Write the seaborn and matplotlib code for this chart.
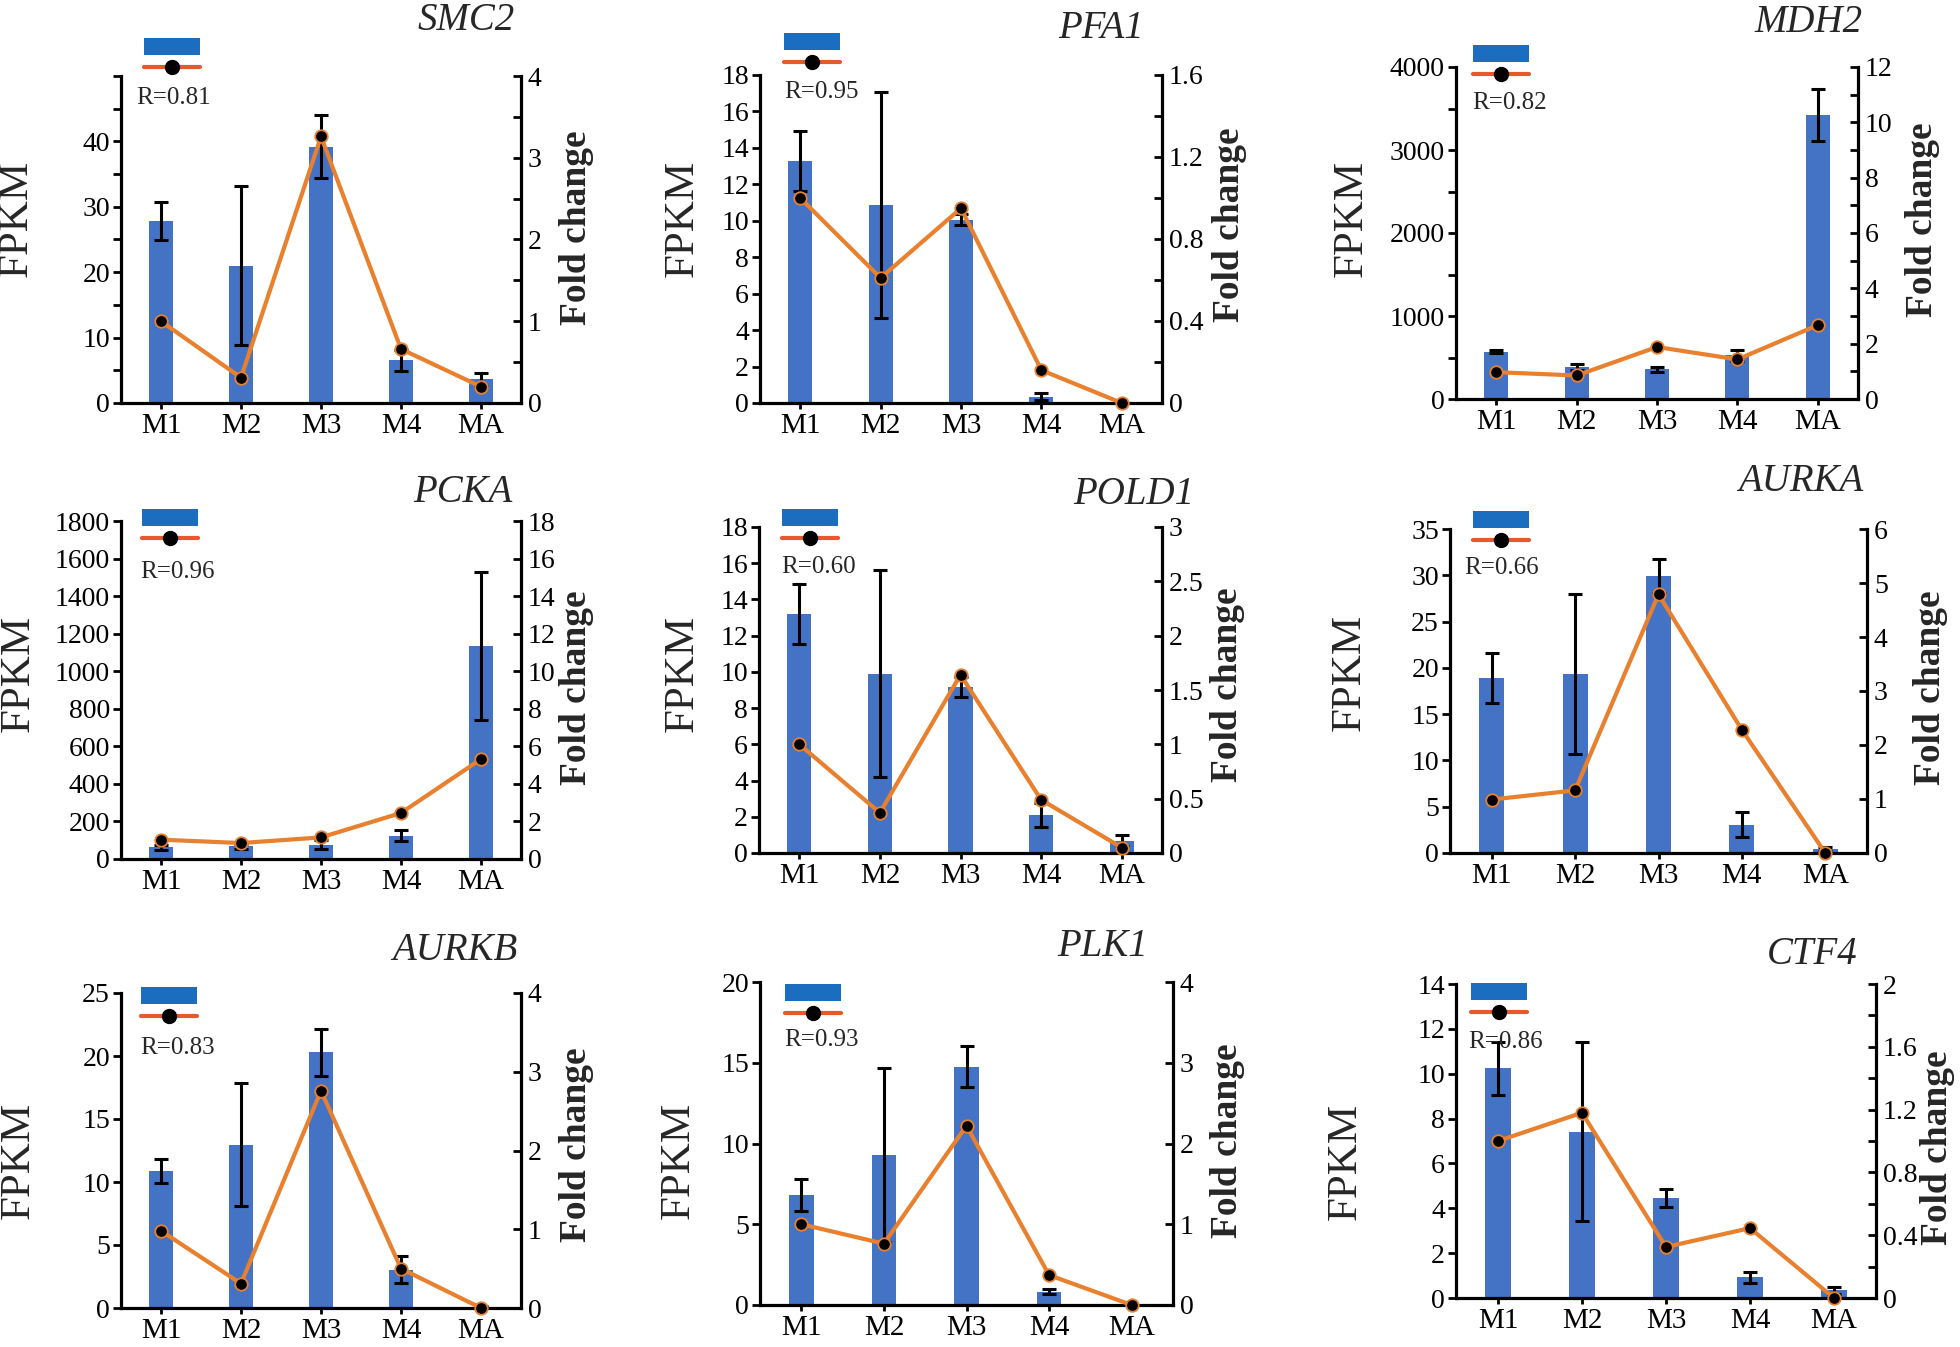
import numpy as np
import matplotlib
matplotlib.use("Agg")
import matplotlib.pyplot as plt
import seaborn as sns
from matplotlib.patches import Patch
from matplotlib.lines import Line2D
from matplotlib.ticker import FixedLocator, MultipleLocator

sns.set_style("ticks")
plt.rcParams["font.family"] = ["Liberation Serif", "DejaVu Serif"]

# ---- data ----
stages = ["M1", "M2", "M3", "M4", "MA"]
genes = ["SMC2", "PFA1", "MDH2", "PCKA", "POLD1", "AURKA", "AURKB", "PLK1", "CTF4"]
r_values = ["0.81", "0.95", "0.82", "0.96", "0.60", "0.66", "0.83", "0.93", "0.86"]

smc2_fpkm = [27.8, 21.0, 39.2, 6.5, 3.6]
smc2_err = [2.9, 12.2, 4.8, 1.6, 1.0]
smc2_fc = [1.0, 0.31, 3.26, 0.66, 0.20]

pfa1_fpkm = [13.3, 10.85, 10.05, 0.35, 0.0]
pfa1_err = [1.65, 6.2, 0.3, 0.2, 0.0]
pfa1_fc = [1.0, 0.61, 0.95, 0.16, 0.0]

mdh2_fpkm = [570, 384, 356, 525, 3420]
mdh2_err = [15, 40, 35, 70, 310]
mdh2_fc = [0.97, 0.85, 1.88, 1.43, 2.67]

pcka_fpkm = [62, 67, 76, 124, 1136]
pcka_err = [15, 12, 25, 30, 395]
pcka_fc = [1.03, 0.85, 1.15, 2.45, 5.32]

pold1_fpkm = [13.2, 9.9, 9.15, 2.1, 0.68]
pold1_err = [1.65, 5.7, 0.55, 0.65, 0.3]
pold1_fc = [1.0, 0.37, 1.64, 0.49, 0.05]

aurka_fpkm = [18.9, 19.3, 29.9, 3.07, 0.43]
aurka_err = [2.7, 8.65, 1.85, 1.35, 0.2]
aurka_fc = [0.99, 1.16, 4.79, 2.28, 0.0]

aurkb_fpkm = [10.9, 12.95, 20.3, 3.05, 0.1]
aurkb_err = [0.95, 4.87, 1.85, 1.04, 0.05]
aurkb_fc = [0.98, 0.31, 2.76, 0.50, 0.0]

plk1_fpkm = [6.8, 9.3, 14.75, 0.83, 0.0]
plk1_err = [1.0, 5.4, 1.26, 0.17, 0.0]
plk1_fc = [1.0, 0.76, 2.22, 0.37, 0.0]

ctf4_fpkm = [10.25, 7.42, 4.45, 0.93, 0.34]
ctf4_err = [1.18, 3.98, 0.4, 0.25, 0.15]
ctf4_fc = [1.0, 1.18, 0.325, 0.445, 0.0]

fpkm = [smc2_fpkm, pfa1_fpkm, mdh2_fpkm, pcka_fpkm, pold1_fpkm,
        aurka_fpkm, aurkb_fpkm, plk1_fpkm, ctf4_fpkm]
fpkm_err = [smc2_err, pfa1_err, mdh2_err, pcka_err, pold1_err,
            aurka_err, aurkb_err, plk1_err, ctf4_err]
fold = [smc2_fc, pfa1_fc, mdh2_fc, pcka_fc, pold1_fc,
        aurka_fc, aurkb_fc, plk1_fc, ctf4_fc]

# axis ranges / tick steps
left_top = [50, 18, 4000, 1800, 18, 35, 25, 20, 14]
left_lab = [10, 2, 1000, 200, 2, 5, 5, 5, 2]
left_lab_max = [40, 18, 4000, 1800, 18, 35, 25, 20, 14]
left_tick = [5, 2, 500, 200, 2, 5, 5, 5, 2]
right_top = [4, 1.6, 12, 18, 3, 6, 4, 4, 2]
right_lab = [1, 0.4, 2, 2, 0.5, 1, 1, 1, 0.4]
right_tick = [0.5, 0.2, 1, 2, 0.5, 1, 1, 1, 0.2]

# ---- layout (pixels in the 1960x1347 canvas) ----
W, H = 1960, 1347
axes_box = [(121, 76, 521, 403), (760, 75, 1162, 403), (1456, 67, 1858, 399),
            (121, 521, 521, 859), (759, 527, 1162, 853), (1450, 529, 1867, 853),
            (121, 993, 521, 1308), (760, 982, 1173, 1305), (1456, 984, 1876, 1298)]
title_pos = [(515, 20), (1144, 28), (1863, 22), (512, 493), (1194, 495),
             (1863, 482), (517, 950), (1148, 947), (1858, 955)]
legend_pos = [(144, 38), (784, 33), (1473, 45), (142, 509), (782, 509),
              (1473, 511), (141, 987), (785, 984), (1471, 983)]
r_pos = [(136, 98), (784, 92), (1472, 103), (140, 572), (781, 567),
         (1464, 568), (140, 1048), (784, 1040), (1468, 1042)]
fpkm_pos = [(17, 218), (683, 218), (1352, 218), (19, 673), (683, 673),
            (1350, 672), (19, 1160), (679, 1160), (1346, 1161)]
fold_pos = [(577, 228), (1229, 225), (1922, 220), (577, 688), (1227, 685),
            (1930, 688), (577, 1145), (1227, 1141), (1937, 1148)]

bar_color = "#4472C4"
line_color = "#E8802E"
leg_bar = "#1A6DBF"
leg_line = "#E5592B"


def fx(x):
    return x / W


def fy(y):
    return 1 - y / H


def fmt(v):
    return f"{v:g}"


fig = plt.figure(figsize=(W / 100, H / 100), dpi=100)

for i, gene in enumerate(genes):
    l, t, r, b = axes_box[i]
    ax = fig.add_axes([fx(l), fy(b), (r - l) / W, (b - t) / H])

    sns.barplot(x=stages, y=fpkm[i], ax=ax, color=bar_color, saturation=1,
                width=0.3, errorbar=None, linewidth=0)
    xs = np.arange(len(stages))
    vals = np.array(fpkm[i], dtype=float)
    errs = np.array(fpkm_err[i], dtype=float)
    keep = errs > 0
    ax.errorbar(xs[keep], vals[keep], yerr=errs[keep], fmt="none", ecolor="black",
                elinewidth=2.2, capsize=5, capthick=2.2, zorder=3)

    ax.set_xlim(-0.5, len(stages) - 0.5)
    ax.set_ylim(0, left_top[i])
    ax.yaxis.set_major_locator(FixedLocator(np.arange(0, left_lab_max[i] + 1e-9, left_lab[i])))
    ax.yaxis.set_minor_locator(MultipleLocator(left_tick[i]))
    ax.set_yticklabels([fmt(v) for v in ax.get_yticks()])
    ax.set_xlabel("")
    ax.set_ylabel("")

    ax2 = ax.twinx()
    sns.lineplot(x=xs, y=fold[i], ax=ax2, color=line_color, linewidth=3,
                 marker="o", markersize=9, markerfacecolor="black",
                 markeredgecolor=line_color, markeredgewidth=1.3, clip_on=False,
                 zorder=4)
    ax2.set_ylim(0, right_top[i])
    rt = list(np.arange(0, right_top[i] + 1e-9, right_lab[i]))
    if abs(rt[-1] - right_top[i]) > 1e-6:
        rt.append(right_top[i])
    ax2.yaxis.set_major_locator(FixedLocator(rt))
    ax2.yaxis.set_minor_locator(MultipleLocator(right_tick[i]))
    ax2.set_yticklabels([fmt(round(v, 3)) for v in rt])
    ax2.set_ylabel("")

    for s in ["top", "right"]:
        ax.spines[s].set_visible(False)
    for s in ["top", "left", "bottom"]:
        ax2.spines[s].set_visible(False)
    for sp in [ax.spines["left"], ax.spines["bottom"], ax2.spines["right"]]:
        sp.set_linewidth(2.3)
        sp.set_color("black")

    ax.tick_params(axis="y", which="both", direction="out", length=6, width=2,
                   labelsize=20, pad=2, colors="black")
    ax.tick_params(axis="x", direction="inout", length=8, width=2,
                   labelsize=21, pad=3, colors="black")
    ax2.tick_params(axis="y", which="both", direction="in", length=6, width=2,
                    labelsize=20, pad=5, colors="black")

    # legend symbols
    handles = [Patch(facecolor=leg_bar, edgecolor="none"),
               Line2D([], [], color=leg_line, linewidth=3, marker="o",
                      markersize=10, markerfacecolor="black", markeredgecolor="black")]
    lx, ly = legend_pos[i]
    leg = ax.legend(handles, ["", ""], loc="upper left",
                    bbox_to_anchor=(fx(lx), fy(ly)), bbox_transform=fig.transFigure,
                    frameon=False, fontsize=14, handlelength=2.9, handleheight=1.0,
                    handletextpad=0, labelspacing=0.1, borderpad=0, borderaxespad=0)
    leg.set_zorder(6)

    rx, ry = r_pos[i]
    fig.text(fx(rx), fy(ry), "R=" + r_values[i], ha="left", va="center", fontsize=18)

    tx, ty = title_pos[i]
    fig.text(fx(tx), fy(ty), gene, ha="right", va="center", style="italic", fontsize=28)

    px_, py_ = fpkm_pos[i]
    fig.text(fx(px_), fy(py_), "FPKM", ha="center", va="center", rotation=90, fontsize=31)

    qx, qy = fold_pos[i]
    fig.text(fx(qx), fy(qy), "Fold change", ha="center", va="center", rotation=90,
             fontsize=27, fontweight="bold")

fig.savefig("out.png", dpi=100)
